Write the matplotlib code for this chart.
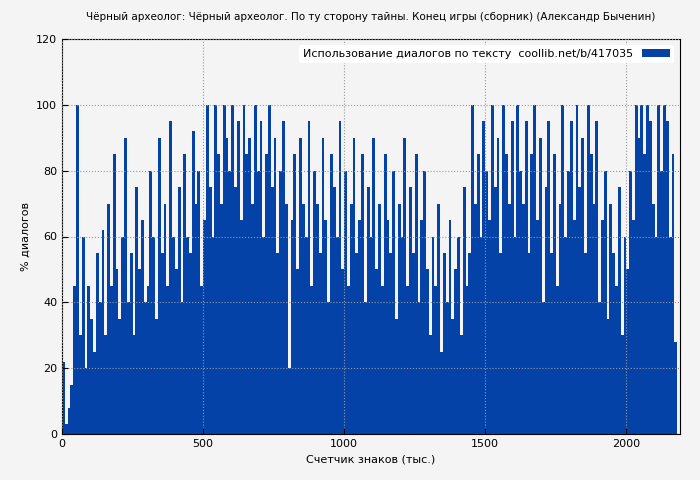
import matplotlib.pyplot as plt
import numpy as np

# dialog share, one value per 10 thousand characters
dialog_pct = [
    22, 3, 8, 15, 45, 100, 30, 60, 20, 45, 35, 25, 55, 40, 62, 30, 70, 45, 85, 50,
    35, 60, 90, 40, 55, 30, 75, 50, 65, 40, 45, 80, 60, 35, 90, 55, 70, 45, 95, 60,
    50, 75, 40, 85, 60, 55, 92, 70, 80, 45, 65, 100, 75, 60, 100, 85, 70, 100, 90, 80,
    100, 75, 95, 65, 100, 85, 90, 70, 100, 80, 95, 60, 85, 100, 75, 90, 55, 80, 95, 70,
    20, 65, 85, 50, 90, 70, 60, 95, 45, 80, 70, 55, 90, 65, 40, 85, 75, 60, 95, 50,
    80, 45, 70, 90, 55, 65, 85, 40, 75, 60, 90, 50, 70, 45, 85, 65, 55, 80, 35, 70,
    60, 90, 45, 75, 55, 85, 40, 65, 80, 50, 30, 60, 45, 70, 25, 55, 40, 65, 35, 50,
    60, 30, 75, 45, 55, 100, 70, 85, 60, 95, 80, 65, 100, 75, 90, 55, 100, 85, 70, 95,
    60, 100, 80, 70, 95, 55, 85, 100, 65, 90, 40, 75, 95, 55, 85, 45, 70, 100, 60, 80,
    95, 65, 100, 75, 90, 55, 100, 85, 70, 95, 40, 65, 80, 35, 70, 55, 45, 75, 30, 60,
    50, 80, 65, 100, 90, 100, 85, 100, 95, 70, 60, 100, 80, 100, 95, 60, 85, 28,
]
x_start = np.arange(len(dialog_pct)) * 10
bar_color = '#0442a8'

fig = plt.figure(figsize=(7, 4.8), dpi=100, facecolor='#f4f4f4')
ax = fig.add_axes([62 / 700, 46 / 480, 618 / 700, 395 / 480])
ax.set_facecolor('#f4f4f4')
ax.bar(x_start, dialog_pct, width=10, align='edge', color=bar_color, linewidth=0,
       label='Использование диалогов по тексту  coollib.net/b/417035')
ax.set_xlim(0, 2190)
ax.set_ylim(0, 120)
ax.set_xticks([0, 500, 1000, 1500, 2000])
ax.set_yticks(range(0, 121, 20))
ax.grid(True, color='#999999', linestyle=':', linewidth=0.8)
ax.set_axisbelow(False)
ax.tick_params(labelsize=8, direction='in', length=4)
ax.set_xlabel('Счетчик знаков (тыс.)', fontsize=8)
ax.set_ylabel('% диалогов', fontsize=8)
ax.set_title('Чёрный археолог: Чёрный археолог. По ту сторону тайны. Конец игры (сборник) (Александр Быченин)',
             fontsize=7.5, pad=14)
leg = ax.legend(loc='upper right', fontsize=8, frameon=True, facecolor='white',
                edgecolor='none', framealpha=1, markerfirst=False, handlelength=2.5)
plt.savefig('out.png', dpi=100, facecolor=fig.get_facecolor())
